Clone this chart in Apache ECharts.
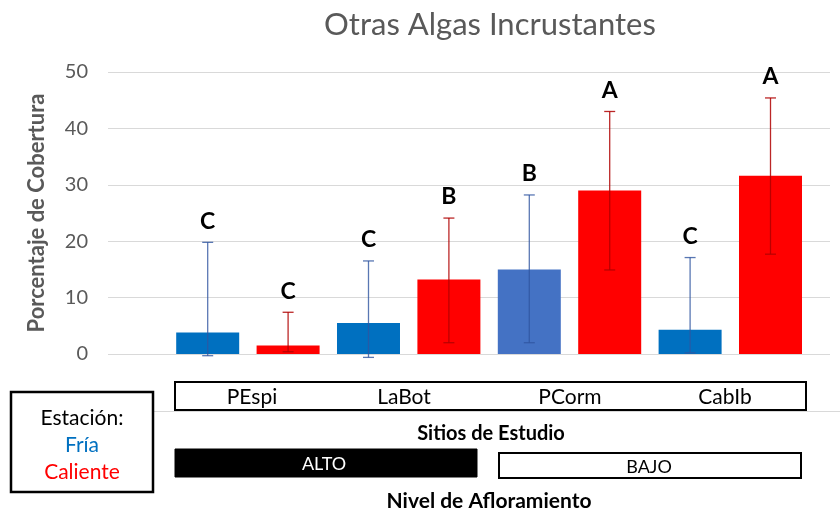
<!DOCTYPE html>
<html>
<head>
<meta charset="utf-8">
<script src="https://cdn.jsdelivr.net/npm/echarts@6/dist/echarts.min.js"></script>
<style>
  html, body { margin: 0; padding: 0; background: #fff; }
  #chart { width: 840px; height: 514px; }
</style>
</head>
<body>
<div id="chart"></div>
<script>
// datos
const sitios = ['PEspi', 'LaBot', 'PCorm', 'CabIb'];
const estaciones = ['Fría', 'Caliente'];
const niveles = ['ALTO', 'BAJO'];
// barras en orden: PEspi fria, PEspi caliente, LaBot fria, ...
const medias = [3.8, 1.5, 5.5, 13.2, 15.0, 29.0, 4.3, 31.6];
const errSup = [19.8, 7.4, 16.5, 24.1, 28.2, 43.0, 17.1, 45.4];
const errInf = [-0.3, 0.4, -0.6, 2.0, 2.0, 14.9, 0.2, 17.7];
const letras = ['C', 'C', 'C', 'B', 'B', 'A', 'C', 'A'];
const yTicks = [0, 10, 20, 30, 40, 50];

const FONT = 'Lato, "Open Sans", sans-serif';
const AZUL = '#0070C0';
const AZUL2 = '#4472C4';
const ROJO = '#FF0000';

const chart = echarts.init(document.getElementById('chart'));

const barData = medias.map((v, i) => [i, v]);
const errData = medias.map((v, i) => [i, errInf[i], errSup[i]]);

function colorBarra(i) {
  if (i % 2) return ROJO;
  return i === 4 ? AZUL2 : AZUL;
}

function texto(x, y, txt, font, color) {
  return {
    type: 'text', x: x, y: y, z: 3,
    style: { text: txt, align: 'center', verticalAlign: 'middle', font: font + ' ' + FONT, fill: color || '#000' }
  };
}

const option = {
  backgroundColor: '#fff',
  animation: false,
  title: {
    text: 'Otras Algas Incrustantes',
    left: 485,
    top: 4,
    textAlign: 'center',
    textStyle: { color: '#595959', fontSize: 31, fontWeight: 'normal', fontFamily: FONT }
  },
  grid: { left: 108, right: 10, top: 72, bottom: 160 },
  xAxis: {
    type: 'value',
    min: -1.24,
    max: 7.74,
    axisLine: { show: false },
    axisTick: { show: false },
    axisLabel: { show: false },
    splitLine: { show: false }
  },
  yAxis: {
    type: 'value',
    min: yTicks[0],
    max: yTicks[yTicks.length - 1],
    interval: 10,
    name: 'Porcentaje de Cobertura',
    nameLocation: 'middle',
    nameGap: 60,
    nameTextStyle: { color: '#595959', fontSize: 22, fontWeight: 'bold', fontFamily: FONT },
    axisLine: { show: false },
    axisTick: { show: false },
    axisLabel: { color: '#595959', fontSize: 20, margin: 20, fontFamily: FONT },
    splitLine: { lineStyle: { color: '#d9d9d9', width: 1 } }
  },
  series: [
    {
      type: 'bar',
      barWidth: 63,
      data: barData,
      itemStyle: { color: (p) => colorBarra(p.dataIndex) },
      z: 2
    },
    {
      type: 'custom',
      data: errData,
      encode: { x: 0, y: [1, 2] },
      z: 3,
      renderItem: function (params, api) {
        const i = api.value(0);
        const top = api.coord([i, api.value(2)]);
        const bot = api.coord([i, api.value(1)]);
        const c = i % 2 ? 'rgba(175,0,0,0.85)' : 'rgba(47,85,160,0.8)';
        const cap = 5.5;
        return {
          type: 'group',
          children: [
            { type: 'line', shape: { x1: top[0], y1: top[1], x2: bot[0], y2: bot[1] }, style: { stroke: c, lineWidth: 1.3 } },
            { type: 'line', shape: { x1: top[0] - cap, y1: top[1], x2: top[0] + cap, y2: top[1] }, style: { stroke: c, lineWidth: 1.3 } },
            { type: 'line', shape: { x1: bot[0] - cap, y1: bot[1], x2: bot[0] + cap, y2: bot[1] }, style: { stroke: c, lineWidth: 1.3 } },
            {
              type: 'text',
              style: {
                text: letras[i], x: top[0], y: top[1] - 21,
                align: 'center', verticalAlign: 'middle',
                font: 'bold 23px ' + FONT, fill: '#000'
              }
            }
          ]
        };
      }
    }
  ],
  graphic: [
    // linea tenue del eje original
    { type: 'line', shape: { x1: 154, y1: 411.5, x2: 840, y2: 411.5 }, style: { stroke: '#d9d9d9', lineWidth: 1 }, z: 1 },
    // caja de sitios
    { type: 'rect', shape: { x: 175, y: 382, width: 631, height: 28 }, style: { fill: '#fff', stroke: '#000', lineWidth: 2 }, z: 2 },
    texto(252, 397, sitios[0], '21px'),
    texto(404, 397, sitios[1], '21px'),
    texto(570, 397, sitios[2], '21px'),
    texto(725, 397, sitios[3], '21px'),
    texto(491, 434, 'Sitios de Estudio', 'bold 20px'),
    // niveles de afloramiento
    { type: 'rect', shape: { x: 175, y: 449, width: 302, height: 28 }, style: { fill: '#000', stroke: '#000', lineWidth: 1 }, z: 2 },
    texto(324, 464, niveles[0], '18px', '#fff'),
    { type: 'rect', shape: { x: 499, y: 453, width: 302, height: 25 }, style: { fill: '#fff', stroke: '#000', lineWidth: 2 }, z: 2 },
    texto(649, 467, niveles[1], '18px'),
    texto(489, 501, 'Nivel de Afloramiento', 'bold 21px'),
    // leyenda de estacion
    { type: 'rect', shape: { x: 11, y: 392, width: 142, height: 100 }, style: { fill: '#fff', stroke: '#000', lineWidth: 2.5 }, z: 2 },
    texto(82, 418, 'Estación:', '21px'),
    texto(82, 445, estaciones[0], '21px', AZUL),
    texto(82, 472, estaciones[1], '21px', ROJO)
  ]
};

chart.setOption(option);
</script>
</body>
</html>
